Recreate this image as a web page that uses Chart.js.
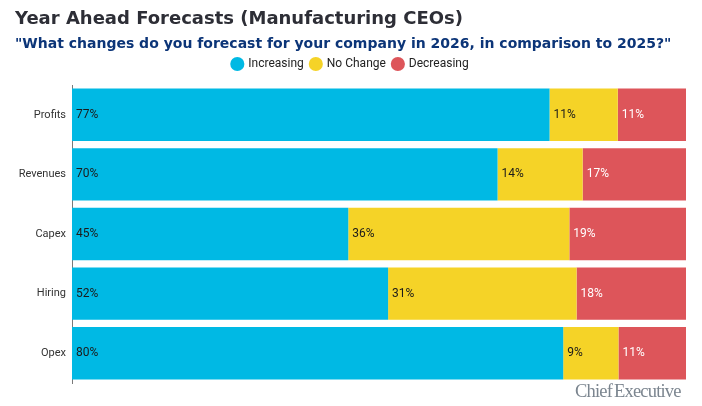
<!DOCTYPE html>
<html>
<head>
<meta charset="utf-8">
<script src="https://cdn.jsdelivr.net/npm/chart.js@4.4.1/dist/chart.umd.min.js"></script>
<style>
  html, body { margin: 0; padding: 0; background: #fff; }
  #wrap { position: relative; width: 702px; height: 406px; }
  #logo {
    position: absolute; left: 575px; top: 381px;
    font-family: "Liberation Serif", "DejaVu Serif", serif;
    font-size: 18.5px; color: #7b858f; letter-spacing: -0.8px; word-spacing: -2px;
  }
</style>
</head>
<body>
<div id="wrap">
  <canvas id="chart" width="702" height="406"></canvas>
  <div id="logo">Chief Executive</div>
</div>
<script>
const categories = ['Profits', 'Revenues', 'Capex', 'Hiring', 'Opex'];
const increasing = [77, 70, 45, 52, 80];
const noChange = [11, 14, 36, 31, 9];
const decreasing = [11, 17, 19, 18, 11];

const seriesNames = ['Increasing', 'No Change', 'Decreasing'];
const seriesColors = ['#00b9e4', '#f5d327', '#dd555a'];
const labelColors = ['#1b1b1b', '#1b1b1b', '#ffffff'];

// each row is drawn as a share of its own total (rows add to 99-101)
const raw = [increasing, noChange, decreasing];
const totals = categories.map((c, i) => raw.reduce((s, arr) => s + arr[i], 0));
const shares = raw.map(arr => arr.map((v, i) => v / totals[i] * 100));

const segmentLabels = {
  id: 'segmentLabels',
  afterDatasetsDraw(chart) {
    const ctx = chart.ctx;
    ctx.save();
    ctx.font = '12px Roboto';
    ctx.textBaseline = 'middle';
    ctx.textAlign = 'left';
    chart.data.datasets.forEach((ds, di) => {
      chart.getDatasetMeta(di).data.forEach((bar, i) => {
        ctx.fillStyle = labelColors[di];
        ctx.fillText(raw[di][i] + '%', bar.base + 4, bar.y);
      });
    });
    ctx.restore();
  }
};

new Chart(document.getElementById('chart'), {
  type: 'bar',
  data: {
    labels: categories,
    datasets: seriesNames.map((name, k) => ({
      label: name,
      data: shares[k],
      backgroundColor: seriesColors[k],
      borderWidth: 0,
      barPercentage: 0.88,
      categoryPercentage: 1
    }))
  },
  options: {
    indexAxis: 'y',
    responsive: false,
    animation: false,
    layout: { padding: { left: 15, right: 16, top: 0, bottom: 23 } },
    scales: {
      x: {
        stacked: true, min: 0, max: 100, position: 'top',
        ticks: { display: false },
        grid: { display: false, drawTicks: false },
        border: { display: false },
        afterFit: s => { s.height = 5; }
      },
      y: {
        stacked: true,
        grid: { display: false, drawTicks: false },
        border: { display: true, color: '#7a7a7a', width: 1 },
        ticks: { color: '#333', font: { family: 'Roboto', size: 11 }, padding: 6 },
        afterFit: s => { s.width = 57; }
      }
    },
    plugins: {
      title: {
        display: true, align: 'start',
        text: 'Year Ahead Forecasts (Manufacturing CEOs)',
        color: '#2d2e36',
        font: { family: '"DejaVu Sans"', size: 18, weight: 'bold', lineHeight: 1 },
        padding: { top: 10.5, bottom: 8.5 }
      },
      subtitle: {
        display: true, align: 'start',
        text: '"What changes do you forecast for your company in 2026, in comparison to 2025?"',
        color: '#0c3578',
        font: { family: '"DejaVu Sans"', size: 14, weight: 'bold', lineHeight: 1 },
        padding: { top: 0, bottom: 0 }
      },
      legend: {
        display: true,
        labels: {
          usePointStyle: true, pointStyle: 'circle',
          boxWidth: 10, boxHeight: 10, padding: 7,
          color: '#222',
          font: { family: 'Roboto', size: 12 }
        }
      },
      tooltip: { enabled: false }
    }
  },
  plugins: [segmentLabels]
});
</script>
</body>
</html>
